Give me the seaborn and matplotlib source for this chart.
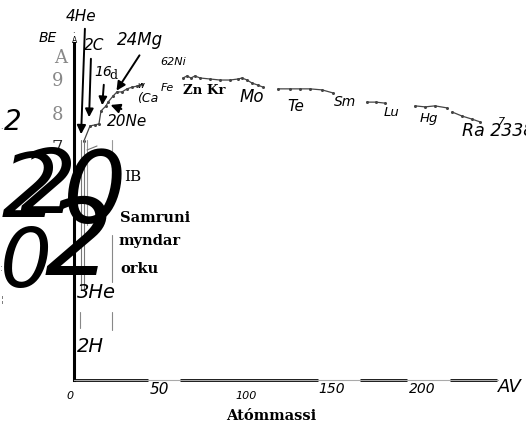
import numpy as np
import pandas as pd
import seaborn as sns
import matplotlib.pyplot as plt
from matplotlib.lines import Line2D
from matplotlib.patches import FancyArrowPatch

# binding energy per nucleon (MeV) vs mass number
# the curve is drawn in separate pieces, one pair of lists per piece
seg_low_A = [5.8, 9.3, 12.2, 14.5, 15.7, 18.6, 19.8, 22.7, 25.0, 27.9, 30.8, 33.7, 36.6, 39.5]
seg_low_BE = [7.18, 7.62, 7.65, 7.68, 8.06, 8.21, 8.32, 8.50, 8.62, 8.62, 8.71, 8.76, 8.79, 8.85]
seg_fe_A = [63.4, 65.7, 68.0, 70.3, 73.3, 79.1, 84.9, 90.7, 95.3, 97.7, 100.6, 103.5, 107.0, 109.9]
seg_fe_BE = [9.03, 9.09, 9.03, 9.09, 9.03, 9.00, 8.97, 8.97, 9.00, 9.03, 8.97, 8.88, 8.82, 8.76]
seg_te_A = [118.6, 125.6, 131.4, 137.2, 144.2, 150.6]
seg_te_BE = [8.71, 8.71, 8.71, 8.71, 8.68, 8.59]
seg_lu_A = [170.3, 175.6, 180.8]
seg_lu_BE = [8.32, 8.32, 8.29]
seg_hg_A = [198.3, 204.1, 209.9, 216.9]
seg_hg_BE = [8.21, 8.18, 8.21, 8.15]
seg_u_A = [219.8, 225.6, 231.4, 236.0]
seg_u_BE = [8.03, 7.91, 7.82, 7.74]

y_ticks = [7, 8, 9]
y_tick_labels = ['7', '8', '9']
x_tick_vals = ['0', '50', '100', '150', '200']

pieces = [(seg_low_A, seg_low_BE), (seg_fe_A, seg_fe_BE), (seg_te_A, seg_te_BE),
          (seg_lu_A, seg_lu_BE), (seg_hg_A, seg_hg_BE), (seg_u_A, seg_u_BE)]
frames = []
for k, (a, be) in enumerate(pieces):
    frames.append(pd.DataFrame({'A': a, 'BE': be, 'piece': k}))
df = pd.concat(frames, ignore_index=True)

sns.set_style("white")
plt.rcParams['font.family'] = ['DejaVu Sans']

W, H = 526, 423
fig = plt.figure(figsize=(W / 100, H / 100), dpi=100)
ax = fig.add_axes([74 / W, 43 / H, 424 / W, 337 / H])

sns.lineplot(data=df, x='A', y='BE', units='piece', estimator=None, ax=ax,
             color='#444444', lw=0.9, marker='o', markersize=2.2,
             markeredgewidth=0, legend=False)

ax.set_xlim(0, 246.5)
ax.set_ylim(0.147, 10.059)
ax.set_xlabel('')
ax.set_ylabel('')
ax.set_xticks([])
ax.set_yticks(y_ticks)
ax.set_yticklabels(y_tick_labels, family='DejaVu Serif', fontsize=13)
for lab, c in zip(ax.get_yticklabels(), ['#222222', '#888888', '#888888']):
    lab.set_color(c)
ax.tick_params(axis='y', length=0, pad=8)
for s in ['top', 'right']:
    ax.spines[s].set_visible(False)
ax.spines['left'].set_color('black')
ax.spines['left'].set_linewidth(2.2)
ax.spines['bottom'].set_color('#aaaaaa')
ax.spines['bottom'].set_linewidth(0.8)
# heavy pieces of the bottom axis
for x0, x1 in [(0, 43), (61.6, 141.9), (166.3, 193.6), (218.6, 245.9)]:
    ax.hlines(0.147, x0, x1, color='black', lw=2, clip_on=False)


def fx(x):
    return x / W


def fy(y):
    return 1 - y / H


def txt(x, y, s, size, style='italic', family='DejaVu Sans', weight='normal',
        color='black', ha='left', va='baseline'):
    fig.text(fx(x), fy(y), s, fontsize=size, style=style, family=family,
             weight=weight, color=color, ha=ha, va=va)


# nuclide labels
txt(66, 21, '4He', 11)
txt(39, 42, 'BE', 10)
txt(72, 43, 'A', 5.5, style='normal')
txt(72, 36, '·', 6, style='normal')
txt(84, 50, '2C', 11)
txt(117, 45, '24Mg', 12)
txt(94, 76, '16', 10)
txt(109, 79, 'd', 9, style='normal', family='DejaVu Serif')
txt(160, 65, '62Ni', 8)
txt(137, 88, 'w', 6)
txt(137, 102, '(Ca', 9)
txt(161, 91, 'Fe', 8)
txt(183, 94, 'Zn Kr', 9.5, style='normal', family='DejaVu Serif', weight='bold')
txt(240, 102, 'Mo', 12)
txt(287, 111, 'Te', 11)
txt(334, 106, 'Sm', 10)
txt(384, 116, 'Lu', 9.5)
txt(420, 122, 'Hg', 9.5)
txt(462, 136, 'Ra 2338', 12.5)
txt(498, 125, '7', 8)
txt(107, 126, '20Ne', 11)
txt(4, 130, '2', 20)
txt(0, 129, '.', 8, color='#777777')

# axis words
txt(54, 63, 'A', 13, style='normal', family='DejaVu Serif', color='#888888')
txt(124, 181, 'IB', 11, style='normal', family='DejaVu Serif')
txt(120, 222, 'Samruni', 10.5, style='normal', family='DejaVu Serif', weight='bold')
txt(118, 245, 'myndar', 10.5, style='normal', family='DejaVu Serif', weight='bold')
txt(120, 273, 'orku', 10.5, style='normal', family='DejaVu Serif', weight='bold')
txt(77, 298, '3He', 14)
txt(77, 352, '2H', 14)
txt(0, 271, ':', 6, style='normal', color='#555555')
txt(1, 302, '¦', 6, style='normal', color='#555555')

# x tick values and axis names
txt(70, 399, x_tick_vals[0], 8, ha='center')
txt(159, 394, x_tick_vals[1], 11, ha='center')
txt(246, 399, x_tick_vals[2], 8, ha='center')
txt(332, 393, x_tick_vals[3], 10, ha='center')
txt(422, 393, x_tick_vals[4], 10, ha='center')
txt(498, 392, 'AV', 13)
txt(271, 420, 'Atómmassi', 10.5, style='normal', family='DejaVu Serif',
    weight='bold', ha='center')

# large overlapping digits
txt(2, 217, '2', 64)
txt(20, 213, '2', 64)
txt(62, 223, '0', 72)
txt(0, 287, '0', 59)
txt(45, 275, '2', 77)

# arrows
for (x0, y0), (x1, y1), ms in [((85, 26), (81, 137), 13), ((91, 56), (89, 120), 12),
                               ((104, 82), (102, 108), 12), ((141, 53), (115, 93), 13),
                               ((124, 110), (108, 104), 14)]:
    fig.add_artist(FancyArrowPatch(
        (fx(x0), fy(y0)), (fx(x1), fy(y1)), transform=fig.transFigure,
        arrowstyle='-|>', mutation_scale=ms, color='black', lw=1.4))

# thin grey guide lines
for (x0, y0), (x1, y1), c in [((81, 140), (81, 290), '#777777'), ((84, 140), (84, 290), '#777777'),
                              ((87, 140), (87, 225), '#999999'), ((112, 140), (112, 182), '#999999'),
                              ((112, 235), (112, 282), '#888888'), ((80, 312), (80, 328), '#888888'),
                              ((112, 312), (112, 330), '#888888'), ((87, 150), (97, 146), '#777777')]:
    fig.add_artist(Line2D([fx(x0), fx(x1)], [fy(y0), fy(y1)], color=c, lw=0.8))

fig.savefig('out.png', dpi=100)
